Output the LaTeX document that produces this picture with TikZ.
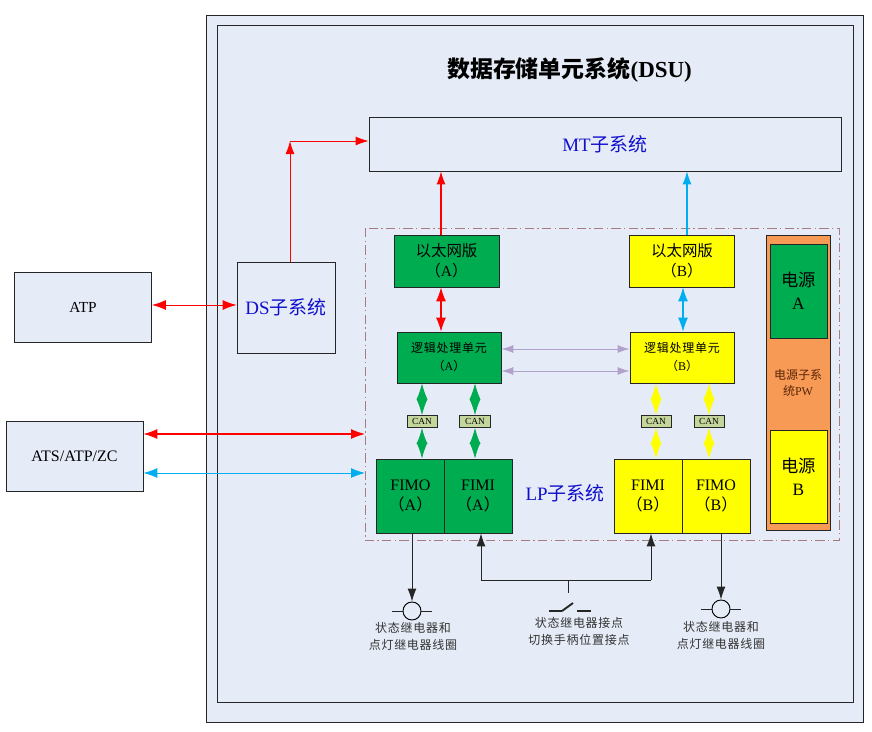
\documentclass[tikz,border=0pt]{standalone}
\usepackage{fontspec}
\setmainfont{Liberation Serif}
\newfontfamily\cjk{Noto Sans CJK SC}
\newfontfamily\cjkwide[LetterSpace=6]{Noto Sans CJK SC}
\usetikzlibrary{arrows.meta}
\definecolor{panel}{HTML}{E6ECF7}
\definecolor{fgreen}{HTML}{00AC50}
\definecolor{fyellow}{HTML}{FFFF00}
\definecolor{forange}{HTML}{F79A55}
\definecolor{fblue}{HTML}{00AEEF}
\definecolor{fpurple}{HTML}{B0A2CC}
\definecolor{fcan}{HTML}{C4D69C}
\definecolor{fdash}{HTML}{A67C80}
\definecolor{ftext}{HTML}{1010CC}
\definecolor{fbrown}{HTML}{5A2408}
\newcommand{\zh}[1]{{\cjk #1}}
\newcommand{\zw}[1]{{\cjkwide #1}}
\newcommand{\sub}[1]{\zh{（}#1\zh{）}}
\tikzset{
  box/.style={draw=black!85,line width=0.6pt,fill=panel,inner sep=0pt,align=center},
  gbox/.style={box,fill=fgreen},
  ybox/.style={box,fill=fyellow},
  canbox/.style={box,fill=fcan,minimum height=9pt,font=\fontsize{7}{8}\selectfont},
  eth/.style={minimum width=78.75pt,minimum height=39pt,font=\fontsize{11.6}{15}\selectfont},
  logic/.style={minimum width=78pt,minimum height=38.25pt,font=\fontsize{9}{13.5}\selectfont},
  fim/.style={minimum width=51pt,minimum height=55.5pt,font=\fontsize{12}{15}\selectfont},
  power/.style={minimum width=42.75pt,font=\fontsize{13}{17}\selectfont},
  sysname/.style={text=ftext,font=\fontsize{14.2}{17}\selectfont},
  note/.style={align=center,text=black!80,font=\fontsize{9}{12.75}\selectfont},
  coil/.style={draw=black,line width=0.7pt,circle,minimum size=13.5pt,inner sep=0pt},
  thin tip/.style={line width=0.7pt,{Latex[length=9pt,width=6pt]}-{Latex[length=9pt,width=6pt]}},
  big tip/.style={line width=0.7pt,{Latex[length=10.5pt,width=7.5pt]}-{Latex[length=10.5pt,width=7.5pt]}},
  oneway/.style={line width=0.7pt,-{Latex[length=9.75pt,width=6.75pt]}},
  canarrow/.style={line width=0.6pt,{Latex[length=12pt,width=8.25pt]}-{Latex[length=12pt,width=8.25pt]}}
}
\begin{document}
\begin{tikzpicture}[x=0.75pt,y=-0.75pt]
  \useasboundingbox (0,0) rectangle (872,732);
  % frames
  \draw[black!85,line width=0.6pt,fill=panel] (206,15) rectangle (863.5,722);
  \draw[black!85,line width=0.6pt,fill=panel] (217.5,25) rectangle (853,702);
  \draw[fdash,line width=0.7pt,dash pattern=on 7pt off 2.5pt on 1pt off 2.5pt] (365,228) rectangle (839,540.5);
  % boxes
  \node[box,minimum width=102.75pt,minimum height=52.5pt,font=\fontsize{11.5}{14}\selectfont] (atp) at (83,307) {ATP};
  \node[box,minimum width=102.75pt,minimum height=52.5pt,font=\fontsize{12}{14}\selectfont] (ats) at (74.5,456) {ATS/ATP/ZC};
  \node[box,minimum width=73.5pt,minimum height=68.25pt,sysname] (ds) at (286,307.5) {DS\zh{子系统}};
  \node[box,minimum width=354pt,minimum height=40.5pt,sysname] (mt) at (605,144) {MT\zh{子系统}};
  \node[gbox,eth] (ethA) at (446.5,261) {\zh{以太网版}\\\sub{A}};
  \node[ybox,eth] (ethB) at (682,261) {\zh{以太网版}\\\sub{B}};
  \node[gbox,logic] (logicA) at (449,357.5) {\zw{逻辑处理单元}\\\sub{A}};
  \node[ybox,logic] (logicB) at (682,357.5) {\zw{逻辑处理单元}\\\sub{B}};
  \node[gbox,fim] (fimoA) at (410.5,496) {FIMO\\\sub{A}};
  \node[gbox,fim] (fimiA) at (478,496) {FIMI\\\sub{A}};
  \node[ybox,fim] (fimiB) at (648,496) {FIMI\\\sub{B}};
  \node[ybox,fim] (fimoB) at (716,496) {FIMO\\\sub{B}};
  \node[canbox,minimum width=22.5pt] (canA) at (422,421.5) {CAN};
  \node[canbox,minimum width=23.25pt] (canB) at (475,421.5) {CAN};
  \node[canbox,minimum width=22.5pt] (canC) at (656,421.5) {CAN};
  \node[canbox,minimum width=22.5pt] (canD) at (709,421.5) {CAN};
  \node[box,fill=forange,minimum width=48pt,minimum height=221.25pt,text=fbrown,font=\fontsize{9}{12}\selectfont] (pw) at (798,382.5) {\zh{电源子系}\\\zh{统}PW};
  \node[gbox,power,minimum height=70.5pt] (powerA) at (798.5,291) {\zh{电源}\\A};
  \node[ybox,power,minimum height=69.75pt] (powerB) at (798.5,476.5) {\zh{电源}\\B};
  % labels
  \node[font=\bfseries\fontsize{17.2}{20}\selectfont] (title) at (569.5,69.5) {\zh{数据存储单元系统}(DSU)};
  \node[sysname] (lp) at (565,493) {LP\zh{子系统}};
  \node[note] (noteA) at (413,636.5) {\zw{状态继电器和}\\\zw{点灯继电器线圈}};
  \node[note] (noteB) at (579,631.5) {\zw{状态继电器接点}\\\zw{切换手柄位置接点}};
  \node[note] (noteC) at (721,635.5) {\zw{状态继电器和}\\\zw{点灯继电器线圈}};
  \node[coil] (coilA) at (412,611) {};
  \node[coil] (coilB) at (721,609) {};
  % where the connectors run
  \coordinate (dsup) at (290,141);
  \coordinate (redA) at (441,0);
  \coordinate (blueB) at (687,0);
  \coordinate (blueC) at (683,0);
  \coordinate (inA) at (481,580);
  \coordinate (inB) at (651,580);
  \coordinate (stem) at (568,580);
  \coordinate (stemend) at (568,593);
  \coordinate (swa) at (549,611);
  \coordinate (swb) at (562,611);
  \coordinate (swc) at (573,603);
  \coordinate (swd) at (577,611);
  \coordinate (swe) at (591,611);
  \begin{scope}[red]
    \draw[oneway] (dsup |- ds.north) -- (dsup);
    \draw[oneway] (dsup) -- (mt.west |- dsup);
    \draw[oneway,line width=0.8pt] (redA |- ethA.north) -- (redA |- mt.south);
    \draw[big tip] (atp.east |- 0,305) -- (ds.west |- 0,305);
    \draw[big tip,line width=0.8pt] (redA |- ethA.south) -- (redA |- logicA.north);
    \draw[big tip,line width=0.8pt] (ats.east |- 0,434) -- (365,434);
  \end{scope}
  \begin{scope}[fblue]
    \draw[oneway,line width=0.8pt] (blueB |- ethB.north) -- (blueB |- mt.south);
    \draw[big tip,line width=0.8pt] (blueC |- ethB.south) -- (blueC |- logicB.north);
    \draw[big tip] (ats.east |- 0,473) -- (365,473);
  \end{scope}
  \begin{scope}[fpurple]
    \draw[thin tip] (logicA.east |- 0,349) -- (logicB.west |- 0,349);
    \draw[thin tip] (logicA.east |- 0,371) -- (logicB.west |- 0,371);
  \end{scope}
  \begin{scope}[fgreen]
    \draw[canarrow] (canA |- logicA.south) -- (canA.north);
    \draw[canarrow] (canB |- logicA.south) -- (canB.north);
    \draw[canarrow] (canA.south) -- (canA |- fimoA.north);
    \draw[canarrow] (canB.south) -- (canB |- fimiA.north);
  \end{scope}
  \begin{scope}[fyellow]
    \draw[canarrow] (canC |- logicB.south) -- (canC.north);
    \draw[canarrow] (canD |- logicB.south) -- (canD.north);
    \draw[canarrow] (canC.south) -- (canC |- fimiB.north);
    \draw[canarrow] (canD.south) -- (canD |- fimoB.north);
  \end{scope}
  \begin{scope}[black!85]
    \draw[oneway] (coilA |- fimoA.south) -- (coilA.north);
    \draw[oneway] (coilB |- fimoB.south) -- (coilB.north);
    \draw[oneway] (inA) -- (inA |- fimiA.south);
    \draw[oneway] (inB) -- (inB |- fimiB.south);
    \draw[line width=0.7pt] (inA) -- (inB);
    \draw[line width=0.7pt] (stem) -- (stemend);
    \draw[line width=0.7pt] (coilA.west) -- ++(-11,0);
    \draw[line width=0.7pt] (coilA.east) -- ++(11,0);
    \draw[line width=0.7pt] (coilB.west) -- ++(-11,0);
    \draw[line width=0.7pt] (coilB.east) -- ++(11,0);
    \draw[line width=2pt] (swa) -- (swb);
    \draw[line width=1.4pt] (swb) -- (swc);
    \draw[line width=2pt] (swd) -- (swe);
  \end{scope}
\end{tikzpicture}
\end{document}
